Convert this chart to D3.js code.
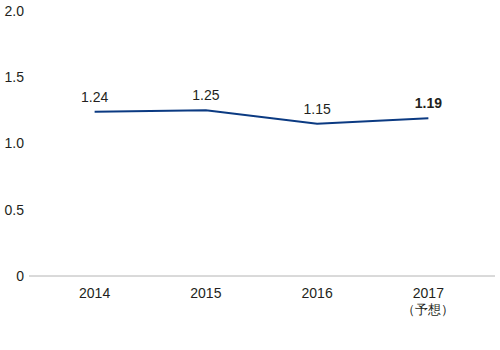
<!DOCTYPE html>
<html><head><meta charset="utf-8">
<script src="https://cdn.jsdelivr.net/npm/d3@7"></script>
<style>body{margin:0;background:#fff}svg{display:block}text{font-family:"Liberation Sans",Arial,sans-serif;}</style>
</head><body><svg id="c" width="500" height="350"></svg>
<script>
const years = ["2014","2015","2016","2017"];
const subLabels = ["","","","（予想）"];
const values = [1.24,1.25,1.15,1.19];
const boldLabel = [false,false,false,true];
const yTicks = [0,0.5,1.0,1.5,2.0];
const yTickLabels = ["0","0.5","1.0","1.5","2.0"];

const svg = d3.select("#c");
const x = d3.scaleBand().domain(years).range([39,484]);
const y = d3.scaleLinear().domain([0,2]).range([276,11]);
const cx = d => x(d)+x.bandwidth()/2;

// baseline
svg.append("line").attr("x1",29).attr("x2",495).attr("y1",y(0)).attr("y2",y(0))
  .attr("stroke","#b4b4b4").attr("stroke-width",1);

// y tick labels
svg.selectAll(".yt").data(yTicks).enter().append("text")
  .attr("x",24).attr("y",d=>y(d)).attr("dy","0.35em").attr("text-anchor","end")
  .attr("font-size",14).attr("fill","#231f20").text((d,i)=>yTickLabels[i]);

// x labels
svg.selectAll(".xt").data(years).enter().append("text")
  .attr("x",d=>cx(d)).attr("y",298).attr("text-anchor","middle")
  .attr("font-size",14).attr("fill","#231f20").text(d=>d);
svg.selectAll(".xs").data(years).enter().append("text")
  .attr("x",d=>cx(d)).attr("y",314).attr("text-anchor","middle")
  .attr("font-family","'Noto Sans CJK JP',sans-serif")
  .attr("font-size",13).attr("fill","#231f20").text((d,i)=>subLabels[i]);

// line
const line = d3.line().x((d,i)=>cx(years[i])).y(d=>y(d));
svg.append("path").datum(values).attr("d",line).attr("fill","none")
  .attr("stroke","#0b3a82").attr("stroke-width",2);

// value labels
svg.selectAll(".vl").data(values).enter().append("text")
  .attr("x",(d,i)=>cx(years[i])).attr("y",d=>y(d)-10).attr("text-anchor","middle")
  .attr("font-size",14).attr("fill","#231f20")
  .attr("font-weight",(d,i)=>boldLabel[i]?"bold":"normal")
  .text(d=>d.toFixed(2));
</script></body></html>
